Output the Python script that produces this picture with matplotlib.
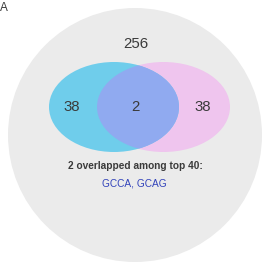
import matplotlib
matplotlib.use("Agg")
import matplotlib.pyplot as plt
from matplotlib.patches import Ellipse, Circle

plt.rcParams['font.family'] = ['Liberation Sans', 'DejaVu Sans']

# set sizes
universe = 256
only_left = 38
only_right = 38
shared = 2
top_n = 40
shared_names = ["GCCA", "GCAG"]

fig = plt.figure(figsize=(2.62, 2.63), dpi=100)
ax = fig.add_axes([0, 0, 1, 1])
ax.set_xlim(0, 262)
ax.set_ylim(263, 0)
ax.set_aspect('equal')
ax.axis('off')

ax.add_patch(Circle((135, 135), 127, color='#ebebeb', lw=0))
pink = Ellipse((163.5, 107), 133, 90, color='#efc5ee', lw=0)
blue = Ellipse((114, 107), 130, 90, color='#6fcdeb', lw=0)
ax.add_patch(pink)
ax.add_patch(blue)
mid = Ellipse((114, 107), 130, 90, color='#90aaf0', lw=0)
ax.add_patch(mid)
mid.set_clip_path(Ellipse((163.5, 107), 133, 90, transform=ax.transData))

txt = '#3a3a3a'
ax.text(135.5, 44, str(universe), ha='center', va='center', fontsize=10.8, color=txt)
ax.text(72, 107, str(only_left), ha='center', va='center', fontsize=10.8, color=txt)
ax.text(135.5, 107, str(shared), ha='center', va='center', fontsize=10.8, color=txt)
ax.text(203, 107, str(only_right), ha='center', va='center', fontsize=10.8, color=txt)
ax.text(135, 166, f"{shared} overlapped among top {top_n}:", ha='center', va='center',
        fontsize=7.3, fontweight='bold', color=txt)
ax.text(134, 184, ", ".join(shared_names), ha='center', va='center', fontsize=7.3, color='#3344bb')
ax.text(0, 8, "A", ha='left', va='center', fontsize=8.5, color=txt)

fig.savefig("out.png", dpi=100)
